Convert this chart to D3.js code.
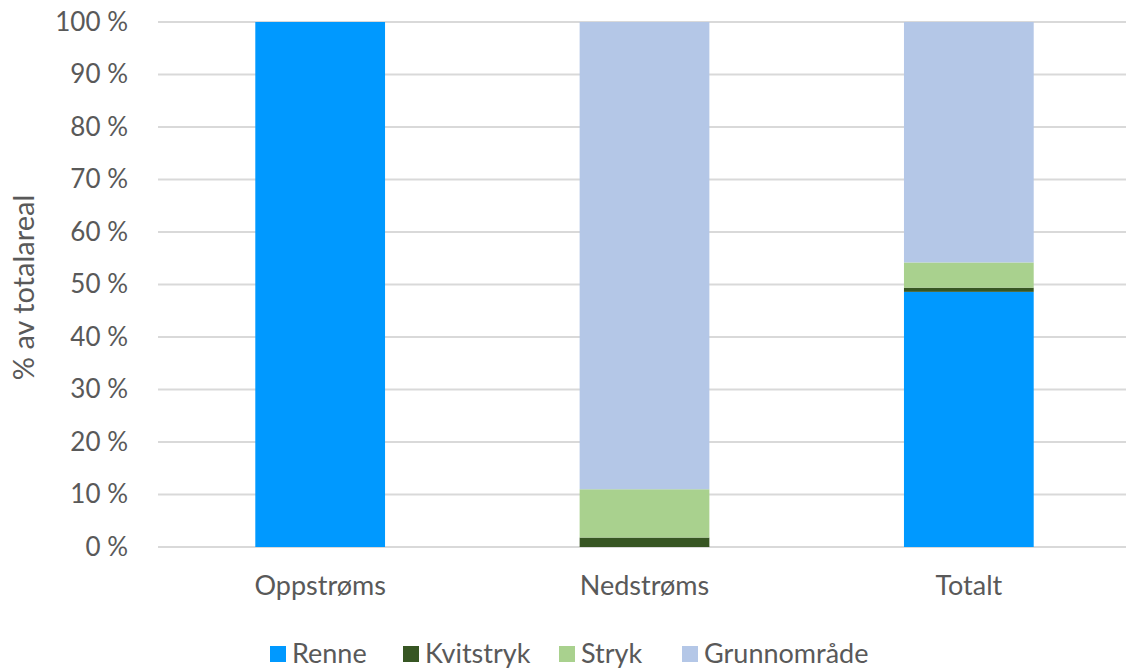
<!DOCTYPE html>
<html>
<head>
<meta charset="utf-8">
<script src="https://cdn.jsdelivr.net/npm/d3@7"></script>
<style>
  html, body { margin: 0; padding: 0; background: #fff; }
  svg { display: block; }
  text { font-family: Lato, "Open Sans", sans-serif; fill: #595959; }
</style>
</head>
<body>
<svg id="chart" width="1126" height="669"></svg>
<script>
// Andel av totalareal per habitattype, stablet til 100 %
const categories = ["Oppstrøms", "Nedstrøms", "Totalt"];
const seriesNames = ["Renne", "Kvitstryk", "Stryk", "Grunnområde"];
const renne       = [100, 0,   48.6];
const kvitstryk   = [0,   1.8, 0.8];
const stryk       = [0,   9.2, 4.8];
const grunnomrade = [0,   89.0, 45.8];
const yTicks = [0, 10, 20, 30, 40, 50, 60, 70, 80, 90, 100];
const colors = ["#0099ff", "#375623", "#a9d18e", "#b4c7e7"];

const rows = categories.map((c, i) => ({
  category: c,
  "Renne": renne[i],
  "Kvitstryk": kvitstryk[i],
  "Stryk": stryk[i],
  "Grunnområde": grunnomrade[i]
}));

const svg = d3.select("#chart");
const plot = { left: 158, right: 1131, top: 22, bottom: 547 };

const x = d3.scaleBand().domain(categories).range([plot.left, plot.right]).padding(0);
const y = d3.scaleLinear().domain([0, 100]).range([plot.bottom, plot.top]);
const color = d3.scaleOrdinal().domain(seriesNames).range(colors);
const barW = x.bandwidth() * 0.4;

// gridlines
svg.append("g")
  .selectAll("line")
  .data(yTicks)
  .join("line")
  .attr("x1", plot.left)
  .attr("x2", plot.right)
  .attr("y1", d => y(d))
  .attr("y2", d => y(d))
  .attr("stroke", "#d9d9d9")
  .attr("stroke-width", 2);

// stacked bars
const stacked = d3.stack().keys(seriesNames)(rows);
svg.append("g")
  .selectAll("g")
  .data(stacked)
  .join("g")
  .attr("fill", d => color(d.key))
  .selectAll("rect")
  .data(d => d)
  .join("rect")
  .attr("x", d => x(d.data.category) + (x.bandwidth() - barW) / 2)
  .attr("width", barW)
  .attr("y", d => y(d[1]))
  .attr("height", d => y(d[0]) - y(d[1]));

// y axis labels
const yAxis = svg.append("g")
  .attr("transform", `translate(${plot.left - 30},0)`)
  .call(d3.axisLeft(y).tickValues(yTicks).tickFormat(d => d + " %").tickSize(0).tickPadding(0));
yAxis.select(".domain").remove();
yAxis.selectAll("text")
  .attr("font-size", 26)
  .attr("font-family", "Lato, 'Open Sans', sans-serif")
  .attr("fill", "#595959");

// x axis labels
const xAxis = svg.append("g")
  .attr("transform", `translate(0,${plot.bottom})`)
  .call(d3.axisBottom(x).tickSize(0).tickPadding(29));
xAxis.select(".domain").remove();
xAxis.selectAll("text")
  .attr("font-size", 27)
  .attr("font-family", "Lato, 'Open Sans', sans-serif")
  .attr("fill", "#595959");

// axis title
svg.append("text")
  .attr("transform", `translate(34,${(plot.top + plot.bottom) / 2 + 3}) rotate(-90)`)
  .attr("text-anchor", "middle")
  .attr("font-size", 29)
  .text("% av totalareal");

// legend
const legendX = [270, 403, 559, 682];
const legendY = 654;
const legend = svg.append("g")
  .selectAll("g")
  .data(seriesNames)
  .join("g")
  .attr("transform", (d, i) => `translate(${legendX[i]},${legendY})`);
legend.append("rect")
  .attr("x", 0)
  .attr("y", -8)
  .attr("width", 16)
  .attr("height", 16)
  .attr("fill", d => color(d));
legend.append("text")
  .attr("x", 22)
  .attr("y", 0)
  .attr("dy", "0.35em")
  .attr("font-size", 27)
  .text(d => d);
</script>
</body>
</html>
